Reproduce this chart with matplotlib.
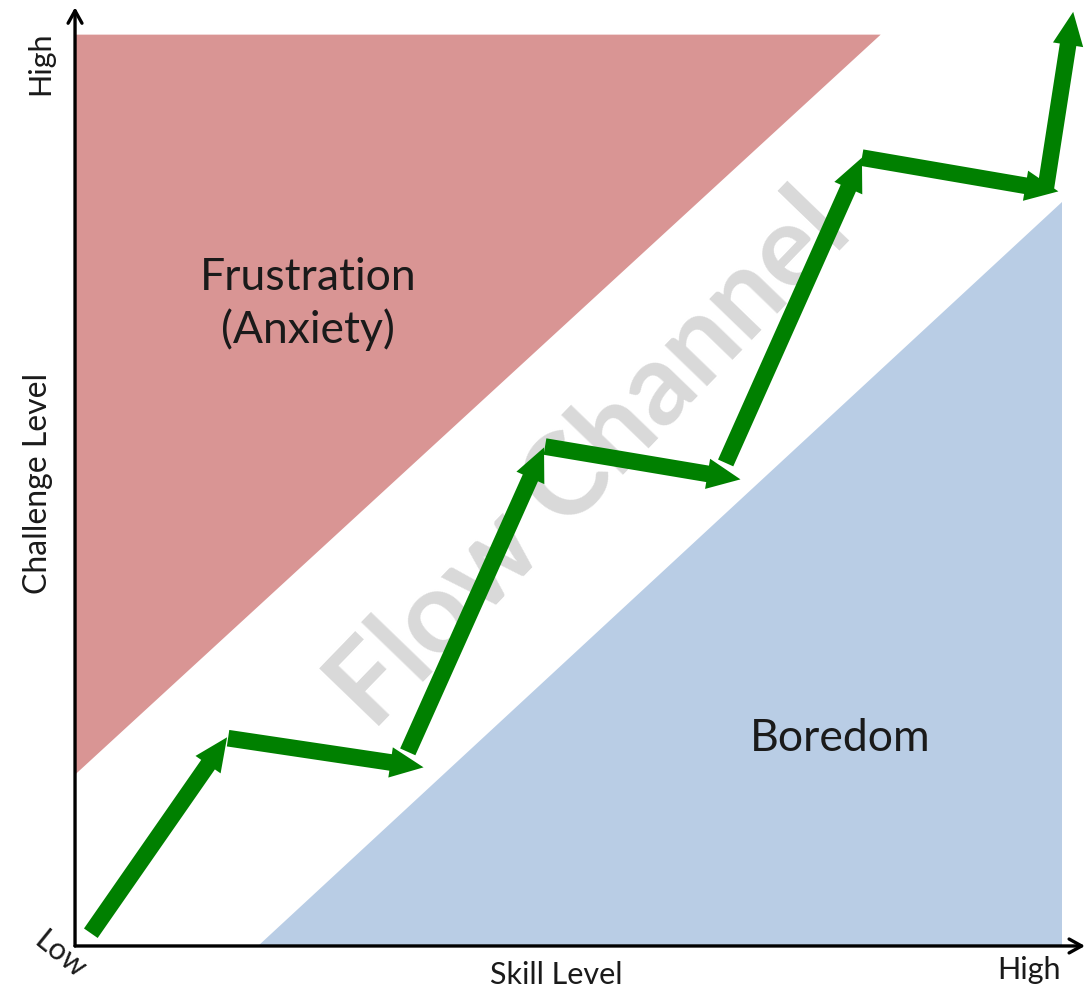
import matplotlib

matplotlib.use("Agg")
import matplotlib.pyplot as plt
from matplotlib.patches import Polygon, FancyArrowPatch

plt.rcParams["font.family"] = ["Lato", "DejaVu Sans"]

RED = "#d99594"
BLUE = "#b9cde5"
GREEN = "#008000"
GRAY = "#d9d9d9"
INK = "#1a1a1a"

# Zones on a 0..10 skill / challenge scale.
anxiety_skill = [0.0, 8.16, 0.0]
anxiety_challenge = [10.0, 10.0, 1.88]
boredom_skill = [1.85, 10.0, 10.0]
boredom_challenge = [0.0, 0.0, 8.16]

# Staircase of green arrows (tail -> head).
step_skill_from = [0.16, 1.55, 3.37, 4.76, 6.59, 7.97, 9.83]
step_chal_from = [0.14, 2.28, 2.13, 5.48, 5.30, 8.65, 8.30]
step_skill_to = [1.54, 3.53, 4.75, 6.74, 7.97, 9.96, 10.11]
step_chal_to = [2.29, 1.96, 5.47, 5.12, 8.65, 8.28, 10.25]

fig = plt.figure(figsize=(10.88, 9.92), dpi=100)
ax = fig.add_axes([0, 0, 1, 1])
ax.set_xlim(-0.76, 10.26)
ax.set_ylim(-0.505, 10.38)
ax.axis("off")

ax.add_patch(Polygon(list(zip(anxiety_skill, anxiety_challenge)), closed=True,
                     facecolor=RED, edgecolor="none", zorder=1))
ax.add_patch(Polygon(list(zip(boredom_skill, boredom_challenge)), closed=True,
                     facecolor=BLUE, edgecolor="none", zorder=1))

ax.text(5.22, 5.33, "Flow Channel", rotation=46, rotation_mode="anchor",
        ha="center", va="center", fontsize=82, fontweight="bold", color=GRAY, zorder=2)

for x0, y0, x1, y1 in zip(step_skill_from, step_chal_from, step_skill_to, step_chal_to):
    ax.add_patch(FancyArrowPatch(
        (x0, y0), (x1, y1),
        arrowstyle="simple,head_length=24,head_width=22,tail_width=12",
        mutation_scale=1, color=GREEN, linewidth=0,
        shrinkA=0, shrinkB=0, zorder=4))

# Axes with open arrowheads.
ax.annotate("", xy=(10.23, 0), xytext=(0, 0),
            arrowprops=dict(arrowstyle="->,head_length=0.9,head_width=0.5",
                            lw=2.4, color="black", shrinkA=0, shrinkB=0), zorder=5)
ax.annotate("", xy=(0, 10.30), xytext=(0, 0),
            arrowprops=dict(arrowstyle="->,head_length=0.9,head_width=0.5",
                            lw=2.4, color="black", shrinkA=0, shrinkB=0), zorder=5)

ax.text(2.36, 7.04, "Frustration\n(Anxiety)", ha="center", va="center",
        fontsize=32, color=INK, linespacing=1.3, zorder=3)
ax.text(7.75, 2.28, "Boredom", ha="center", va="center", fontsize=32, color=INK, zorder=3)

ax.text(-0.375, 5.08, "Challenge Level", rotation=90, ha="center", va="center",
        fontsize=23, color=INK)
ax.text(-0.355, 9.69, "High", rotation=90, ha="center", va="center",
        fontsize=22, color=INK)
ax.text(-0.15, -0.10, "Low", rotation=-39, ha="center", va="center",
        fontsize=22, color=INK)
ax.text(4.87, -0.32, "Skill Level", ha="center", va="center", fontsize=22, color=INK)
ax.text(9.66, -0.26, "High", ha="center", va="center", fontsize=22, color=INK)

fig.savefig("out.png", dpi=100, facecolor="white")
